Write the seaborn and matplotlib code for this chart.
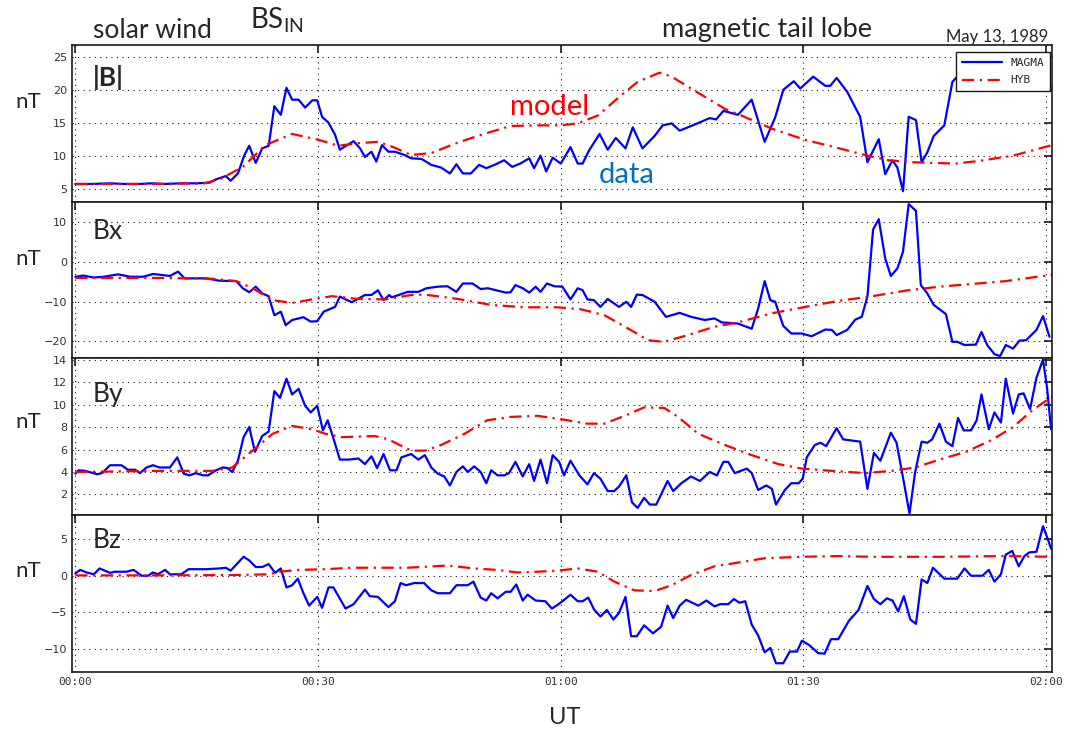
import matplotlib
matplotlib.use("Agg")  # headless
import matplotlib.pyplot as plt
import seaborn as sns

sns.set_theme(style="white")
plt.rcParams["font.family"] = ["Lato", "DejaVu Sans"]
plt.rcParams["mathtext.fontset"] = "custom"
plt.rcParams["mathtext.rm"] = "Lato"

# ---- data (minutes after 00:00 UT, nT) ----
# |B|
t_btot = [0, 2, 4.3, 6, 8, 9.5, 11, 13, 15, 16.6,
          17.4, 18.6, 19.2, 20.1, 20.9, 21.5, 22.3, 23.1, 23.9, 24.6,
          25.4, 26.1, 26.8, 27.6, 28.4, 29.3, 29.9, 30.5, 31.3, 32.1,
          32.7, 33.6, 34.4, 35.2, 35.8, 36.6, 37.2, 37.9, 38.7, 39.5,
          40.7, 41.5, 42.8, 44.0, 45.2, 46.3, 47.1, 47.9, 48.9, 49.9,
          50.8, 51.8, 53.0, 54.0, 55.0, 56.1, 56.7, 57.5, 58.2, 59.0,
          60.0, 61.2, 62.1, 62.7, 63.5, 64.8, 65.8, 66.8, 68.0, 68.9,
          70.1, 71.6, 72.6, 73.7, 74.7, 76.5, 78.4, 79.2, 80.1, 81.9,
          83.6, 85.2, 86.5, 87.5, 88.8, 89.6, 91.2, 92.7, 93.3, 94.1,
          95.4, 97.0, 97.9, 99.3, 100.1, 101.0, 101.6, 102.3, 103.0, 103.9,
          104.6, 105.3, 106.1, 107.4, 108.4, 109.0, 110.5, 112, 114, 116,
          118, 120, 120.6]
btot_magma = [5.7, 5.7, 5.8, 5.7, 5.7, 5.8, 5.7, 5.8, 5.8, 5.9,
              6.4, 6.9, 6.2, 7.3, 10.1, 11.5, 8.9, 11.1, 11.5, 17.5,
              16.2, 20.3, 18.5, 18.5, 17.3, 18.4, 18.4, 15.9, 15.0, 13.2,
              10.9, 11.6, 12.2, 11.1, 9.8, 10.6, 9.1, 11.6, 10.6, 10.6,
              10.1, 9.6, 9.5, 8.6, 8.2, 7.3, 8.7, 7.3, 7.3, 8.6,
              8.1, 8.6, 9.3, 8.3, 8.8, 9.6, 8.1, 10.0, 7.6, 9.7,
              8.8, 11.3, 8.8, 8.8, 10.8, 13.3, 10.9, 12.7, 11.1, 14.3,
              11.1, 13.0, 14.6, 14.9, 13.8, 14.7, 15.7, 15.5, 16.8, 16.2,
              18.5, 12.1, 15.8, 20.0, 21.3, 20.2, 22.0, 20.6, 20.6, 21.8,
              19.7, 15.9, 9.0, 12.5, 7.2, 9.3, 8.2, 4.6, 15.9, 15.4,
              9.0, 10.5, 13.0, 14.6, 21.2, 22.0, 21.5, 22.0, 21.5, 21.8,
              21.2, 21.0, 20.6]
t_btot_hyb = [0, 10, 16, 18, 20.7, 23.5, 26.8, 30.1, 32.5, 35,
              37.5, 39.5, 41.5, 44, 47.3, 50.5, 53.8, 57.1, 60, 62.1,
              64.6, 67.4, 69.5, 72.2, 73.7, 76.5, 80.3, 82.3, 86.1, 90.2,
              93.5, 97.6, 100.5, 103.4, 108.8, 111.7, 115.9, 120.7]
btot_hyb = [5.7, 5.7, 5.8, 6.5, 8.3, 11.6, 13.3, 12.4, 11.5, 11.9,
            12.1, 11.2, 10.1, 10.4, 12.0, 13.3, 14.5, 14.6, 14.6, 14.9,
            16.1, 19.1, 21.2, 22.6, 22.0, 19.9, 17.1, 16.1, 14.1, 12.4,
            11.4, 10.1, 9.3, 9.0, 8.8, 9.2, 10.0, 11.6]

# Bx
t_bx = [0, 1.0, 2.3, 3.5, 5.3, 6.8, 8.4, 9.6, 11.7, 12.7,
        13.5, 16.2, 17.8, 19.9, 20.7, 21.5, 22.3, 23.1, 23.9, 24.6,
        25.4, 26.0, 26.8, 28.2, 29.1, 29.9, 30.7, 32.1, 32.7, 33.6,
        34.2, 35.8, 36.6, 37.4, 38.1, 38.8, 39.1, 41.1, 42.4, 43.4,
        44.8, 46.0, 47.1, 47.9, 49.1, 50.1, 51.0, 52.0, 53.2, 53.8,
        54.4, 55.3, 56.1, 56.9, 57.5, 58.3, 59.2, 60.2, 61.2, 62.1,
        62.7, 63.3, 64.1, 64.9, 65.8, 67.2, 68.1, 68.7, 69.4, 70.1,
        71.6, 73.0, 74.7, 76.1, 77.8, 79.0, 79.9, 81.9, 83.6, 84.4,
        85.2, 85.9, 86.5, 87.5, 88.5, 89.8, 91.0, 92.7, 93.5, 94.1,
        95.4, 96.4, 97.2, 97.9, 98.6, 99.3, 100.1, 100.8, 101.6, 102.3,
        103.0, 103.9, 104.5, 105.3, 106.1, 107.6, 108.4, 109.0, 109.9, 111.3,
        112.0, 112.7, 113.6, 114.3, 115.0, 115.9, 116.7, 117.5, 118.8, 119.6,
        120.4]
bx_magma = [-3.7, -3.4, -3.9, -3.7, -3.1, -3.7, -3.7, -3.0, -3.5, -2.4,
            -4.1, -4.1, -4.7, -4.8, -6.6, -7.6, -6.2, -7.9, -8.6, -13.4,
            -12.5, -15.9, -14.6, -13.9, -15.0, -14.9, -12.5, -11.3, -8.7, -9.6,
            -10.1, -8.3, -8.3, -7.1, -9.6, -8.3, -8.9, -7.5, -7.5, -6.6,
            -6.2, -6.1, -7.5, -5.4, -5.4, -6.8, -6.6, -7.1, -7.7, -7.6,
            -5.8, -6.6, -7.7, -6.2, -7.5, -5.4, -6.1, -6.2, -9.4, -6.6,
            -7.1, -9.4, -9.6, -11.3, -9.3, -11.3, -10.0, -11.3, -8.2, -8.3,
            -10.0, -13.8, -12.8, -13.8, -14.6, -14.2, -15.2, -15.5, -16.8, -11.7,
            -4.8, -9.6, -10.0, -16.1, -18.0, -18.0, -18.7, -17.0, -17.1, -18.4,
            -17.1, -14.5, -13.8, -8.7, 8.2, 10.8, 0.9, -3.5, -1.6, 2.6,
            14.6, 12.9, -5.8, -7.9, -10.8, -13.1, -20.1, -20.1, -20.9, -20.8,
            -17.6, -20.9, -23.2, -23.7, -20.9, -21.8, -19.8, -19.7, -17.1, -13.6,
            -18.8]
t_bx_hyb = [0, 10, 17, 19.9, 21.9, 24.4, 26.8, 29.3, 31.7, 35.0,
            38.3, 41.5, 43.2, 47.3, 51.4, 55.5, 59.6, 62.5, 65.4, 68.3,
            70.8, 72.8, 75.7, 79.0, 81.9, 86.1, 90.2, 94.3, 98.5, 102.6,
            106.8, 110.9, 115.0, 120.7]
bx_hyb = [-4.0, -4.0, -4.2, -4.8, -6.6, -9.6, -10.3, -9.4, -8.6, -9.3,
          -9.4, -8.3, -8.2, -9.3, -10.8, -11.4, -11.4, -11.9, -13.4, -16.7,
          -19.7, -20.1, -18.4, -16.3, -15.2, -12.9, -11.3, -9.8, -8.6, -7.2,
          -6.2, -5.5, -4.8, -3.2]

# By
t_by = [0, 0.4, 1.2, 2.7, 3.3, 4.3, 5.7, 6.5, 7.4, 8.0,
        8.8, 9.6, 10.4, 11.7, 12.6, 13.4, 14.1, 14.9, 15.8, 16.4,
        17.4, 18.2, 18.8, 19.4, 20.1, 20.8, 21.5, 22.2, 23.1, 23.9,
        24.6, 25.3, 26.1, 26.8, 27.6, 28.4, 29.1, 29.9, 30.6, 31.2,
        31.9, 32.7, 33.8, 35.0, 35.8, 36.6, 37.3, 38.1, 38.9, 39.7,
        40.3, 41.5, 42.4, 43.2, 44.0, 44.8, 45.6, 46.3, 47.1, 47.9,
        48.5, 49.3, 50.1, 50.8, 51.4, 52.2, 53.0, 53.6, 54.4, 55.3,
        56.1, 56.7, 57.5, 58.3, 59.0, 59.8, 60.4, 61.2, 62.3, 63.3,
        64.1, 64.9, 65.8, 66.6, 67.2, 68.1, 68.8, 69.5, 70.3, 71.0,
        71.8, 73.2, 73.9, 74.9, 76.1, 77.2, 78.4, 79.3, 80.1, 80.7,
        81.5, 83.0, 83.6, 84.4, 85.4, 86.1, 86.6, 87.7, 88.5, 89.4,
        89.9, 90.4, 91.4, 92.1, 92.8, 94.1, 94.9, 96.0, 97.0, 97.5,
        97.9, 98.7, 99.5, 100.8, 101.5, 102.4, 103.1, 103.8, 104.6, 105.3,
        105.9, 106.8, 107.6, 108.4, 109.1, 109.8, 110.7, 111.4, 112.0, 112.9,
        113.6, 114.4, 115.0, 115.9, 116.6, 117.2, 118.0, 118.8, 119.6, 120.1,
        120.6]
by_magma = [3.85, 4.15, 4.1, 3.8, 3.9, 4.6, 4.6, 4.2, 4.2, 3.9,
            4.4, 4.6, 4.4, 4.4, 5.3, 3.85, 3.7, 3.9, 3.7, 3.7,
            4.15, 4.4, 4.35, 4.0, 5.0, 7.1, 8.0, 5.8, 7.2, 7.6,
            11.2, 10.6, 12.3, 10.9, 11.4, 9.9, 9.3, 9.9, 7.7, 8.6,
            7.0, 5.1, 5.1, 5.2, 4.7, 5.4, 4.35, 5.6, 4.15, 4.15,
            5.3, 5.6, 5.1, 5.5, 4.4, 3.85, 3.6, 2.8, 4.0, 4.5,
            4.0, 4.5, 4.0, 3.0, 4.15, 3.7, 3.7, 3.9, 4.9, 3.6,
            4.7, 3.2, 5.1, 3.0, 5.5, 4.9, 3.7, 5.0, 3.7, 2.9,
            3.9, 3.4, 2.3, 2.3, 2.7, 3.7, 1.3, 0.8, 1.7, 1.1,
            1.1, 3.2, 2.3, 3.0, 3.6, 3.2, 4.0, 3.7, 4.9, 4.9,
            3.9, 4.3, 3.9, 2.4, 2.8, 2.5, 1.1, 2.4, 3.0, 3.0,
            3.4, 5.3, 6.4, 6.6, 6.3, 7.9, 6.9, 6.8, 6.7, 4.4,
            2.5, 5.7, 5.0, 7.5, 6.6, 3.1, 0.3, 4.0, 6.7, 6.6,
            6.9, 8.3, 6.7, 6.3, 8.8, 7.7, 7.7, 8.6, 10.9, 7.8,
            9.3, 8.4, 12.3, 9.2, 10.9, 11.0, 9.6, 12.4, 14.0, 11.5,
            7.8]
t_by_hyb = [0, 10, 17, 19.4, 21.9, 24.4, 26.8, 29.3, 30.9, 32.9,
            37.0, 38.7, 41.5, 43.2, 45.2, 48.1, 50.9, 53.8, 57.1, 60.0,
            63.3, 65.4, 67.9, 70.3, 72.8, 74.5, 77.0, 80.3, 83.6, 86.9,
            89.8, 93.5, 97.6, 100.9, 103.8, 106.8, 110.1, 113.4, 115.9, 118.3,
            120.7]
by_hyb = [4.0, 4.1, 4.1, 4.4, 5.9, 7.4, 8.1, 7.8, 7.4, 7.1,
          7.2, 6.9, 5.9, 5.9, 6.4, 7.4, 8.6, 8.9, 9.0, 8.7,
          8.3, 8.3, 9.0, 9.75, 9.7, 8.9, 7.4, 6.4, 5.5, 4.7,
          4.3, 4.1, 3.9, 4.1, 4.4, 5.1, 5.8, 6.9, 8.0, 9.5,
          10.7]

# Bz
t_bz = [0, 0.6, 1.4, 2.3, 3.0, 4.3, 4.9, 6.3, 7.2, 8.2,
        9.0, 9.6, 10.2, 11.1, 11.7, 13.1, 14.0, 16.2, 17.8, 18.6,
        19.2, 20.8, 21.5, 22.3, 23.1, 23.9, 24.7, 25.4, 26.1, 26.8,
        27.5, 28.2, 28.9, 29.9, 30.5, 31.3, 31.9, 33.4, 34.4, 35.8,
        36.4, 37.4, 38.7, 39.5, 40.2, 40.9, 41.9, 43.1, 44.0, 44.8,
        46.3, 47.1, 48.5, 49.2, 50.1, 50.8, 51.4, 52.2, 53.2, 53.8,
        54.5, 55.3, 55.9, 56.9, 58.1, 58.9, 59.6, 60.2, 61.2, 62.1,
        62.7, 63.4, 64.1, 64.9, 65.7, 66.5, 67.2, 68.0, 68.7, 69.4,
        70.3, 71.4, 72.4, 73.2, 73.9, 74.7, 75.5, 77.0, 78.0, 79.0,
        79.7, 80.7, 81.4, 82.1, 82.8, 83.6, 84.4, 85.2, 85.9, 86.6,
        87.5, 88.3, 89.2, 89.8, 90.7, 91.8, 92.6, 93.4, 94.3, 95.6,
        96.8, 97.9, 98.7, 99.5, 100.3, 101.0, 101.7, 102.4, 103.2, 103.9,
        104.6, 105.3, 106.0, 107.4, 109.0, 109.9, 110.7, 112.1, 112.9, 113.6,
        114.4, 115.0, 115.8, 116.6, 117.3, 117.9, 118.8, 119.6, 120.2, 120.6]
bz_magma = [0.3, 0.8, 0.45, 0.2, 1.0, 0.4, 0.55, 0.55, 0.8, 0.0,
            0.0, 0.45, 0.2, 0.8, 0.2, 0.2, 0.9, 0.9, 1.0, 1.1,
            0.7, 2.6, 2.1, 1.2, 1.2, 1.6, 0.4, 1.0, -1.6, -1.3,
            -0.4, -2.4, -4.1, -2.9, -4.4, -1.6, -1.6, -4.5, -3.9, -1.9,
            -2.8, -2.9, -4.3, -3.5, -1.0, -1.3, -1.0, -1.0, -2.0, -2.4,
            -2.4, -1.3, -1.3, -0.8, -3.0, -3.4, -2.4, -3.1, -2.2, -2.2,
            -1.2, -3.4, -2.6, -3.4, -3.5, -4.5, -4.0, -3.5, -2.6, -3.5,
            -3.5, -3.0, -4.6, -5.6, -4.7, -6.0, -5.1, -2.9, -8.3, -8.3,
            -6.8, -7.9, -7.0, -4.1, -5.8, -4.1, -3.3, -4.1, -3.4, -4.2,
            -3.9, -3.9, -3.2, -3.7, -3.5, -6.7, -8.2, -10.5, -9.9, -12.0,
            -12.0, -10.4, -10.4, -8.9, -9.5, -10.6, -10.7, -8.7, -8.7, -6.2,
            -4.7, -1.4, -3.2, -3.9, -3.1, -3.4, -4.9, -2.8, -6.0, -6.6,
            -0.5, -1.0, 1.1, -0.4, -0.4, 1.0, 0.0, 0.0, 0.8, -0.8,
            0.2, 2.9, 3.4, 1.3, 2.7, 3.2, 3.3, 6.8, 5.0, 3.7]
t_bz_hyb = [0, 10, 20, 24, 25.2, 27.6, 30.9, 34.2, 37.4, 41.1,
            46.0, 49.3, 52.2, 54.6, 57.1, 59.6, 62.1, 64.6, 66.6, 69.1,
            71.6, 73.7, 76.1, 79.0, 81.9, 85.2, 89.8, 94.3, 98.5, 106.8,
            115.0, 120.7]
bz_hyb = [0.05, 0.05, 0.1, 0.2, 0.55, 0.8, 0.9, 1.1, 1.1, 1.1,
          1.4, 1.0, 0.8, 0.45, 0.55, 0.7, 1.0, 0.55, -0.8, -2.0,
          -2.1, -1.3, 0.1, 1.3, 1.8, 2.4, 2.6, 2.7, 2.6, 2.6,
          2.7, 2.6]

x_ticks = [0, 30, 60, 90, 120]
x_ticklabels = ["00:00", "00:30", "01:00", "01:30", "02:00"]

panels = [
    ("|B|", t_btot, btot_magma, t_btot_hyb, btot_hyb, (3.0, 26.8), [5, 10, 15, 20, 25], 0.79, "bold"),
    ("Bx", t_bx, bx_magma, t_bx_hyb, bx_hyb, (-24.3, 15.2), [-20, -10, 0, 10], 0.81, "normal"),
    ("By", t_by, by_magma, t_by_hyb, by_hyb, (0.15, 14.1), [2, 4, 6, 8, 10, 12, 14], 0.77, "normal"),
    ("Bz", t_bz, bz_magma, t_bz_hyb, bz_hyb, (-13.2, 8.3), [-10, -5, 0, 5], 0.84, "normal"),
]
nt_y = [0.57, 0.57, 0.53, 0.58]

BLUE = "#0000FF"
RED = "#FF0000"
DASHDOT = (0, (5.5, 2.5, 1, 2.5))

fig, axes = plt.subplots(4, 1, figsize=(10.69, 7.32), dpi=100, sharex=True)
fig.subplots_adjust(left=0.0674, right=0.984, top=0.9385, bottom=0.082, hspace=0)

for i, (ax, p) in enumerate(zip(axes, panels)):
    name, t_d, v_d, t_m, v_m, ylim, yticks, name_y, weight = p
    sns.lineplot(x=t_d, y=v_d, ax=ax, color=BLUE, lw=1.6, label="MAGMA" if i == 0 else None,
                 legend=False, sort=False, estimator=None)
    sns.lineplot(x=t_m, y=v_m, ax=ax, color=RED, lw=1.6, linestyle=DASHDOT,
                 label="HYB" if i == 0 else None, legend=False, sort=False, estimator=None)
    ax.set_xlim(-0.4, 120.7)
    ax.set_ylim(*ylim)
    ax.set_yticks(yticks)
    ax.set_xticks(x_ticks)
    ax.grid(True, color="k", linestyle=(0, (1, 4)), linewidth=0.8)
    ax.tick_params(direction="in", top=True, right=True, length=6, width=1.2,
                   colors="k", labelsize=8)
    for lbl in ax.get_yticklabels():
        lbl.set_fontfamily("DejaVu Sans")
        lbl.set_color("#333333")
    for s in ax.spines.values():
        s.set_color("k")
        s.set_linewidth(1.2)
    ax.text(0.021, name_y, name, transform=ax.transAxes, fontsize=19,
            fontweight=weight, va="center", ha="left")
    ax.set_ylabel("nT", rotation=0, fontsize=16, labelpad=0)
    ax.yaxis.set_label_coords(-0.045, nt_y[i])
    ax.set_xlabel("")

axes[-1].set_xticklabels(x_ticklabels, fontfamily="DejaVu Sans Mono", fontsize=8, color="#333333")

leg = axes[0].legend(loc="upper right", bbox_to_anchor=(0.998, 0.955), borderaxespad=0,
                     fancybox=False, framealpha=1, edgecolor="k", handlelength=3.6,
                     prop={"family": "DejaVu Sans Mono", "size": 8}, borderpad=0.5,
                     labelspacing=0.7)
leg.get_frame().set_linewidth(1.0)

W, H = 1069, 732
def ftext(x, y, s, **kw):
    fig.text(x / W, 1 - y / H, s, ha="center", va="center", **kw)

ftext(152, 30, "solar wind", fontsize=19)
fig.text(250 / W, 1 - 20 / H, r"BS$_{\mathrm{IN}}$", ha="left", va="center", fontsize=20)
ftext(767, 30, "magnetic tail lobe", fontsize=19.5)
ftext(997, 37, "May 13, 1989", fontsize=12)
ftext(550, 107, "model", fontsize=21, color=RED)
ftext(627, 175, "data", fontsize=21, color="#0070C0")
ftext(565, 718, "UT", fontsize=17)

fig.savefig("out.png", dpi=100)
